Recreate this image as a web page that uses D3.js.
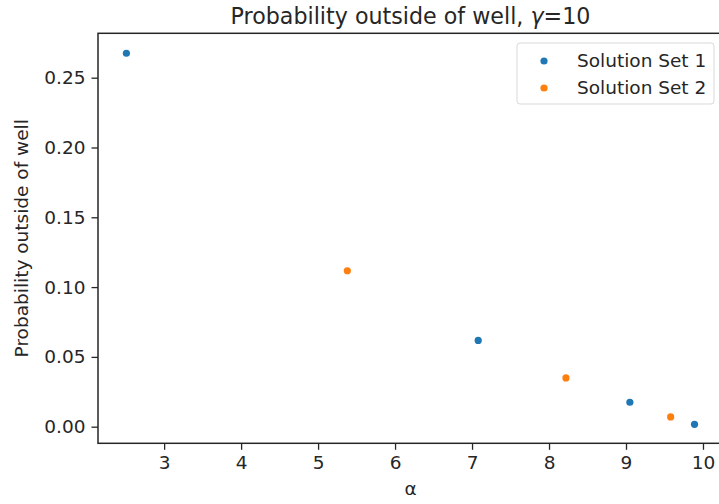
<!DOCTYPE html>
<html>
<head>
<meta charset="utf-8">
<script src="https://cdn.jsdelivr.net/npm/d3@7"></script>
<style>
    body { margin: 0; background: #fff; }
    svg { font-family: "DejaVu Sans", sans-serif; }
</style>
</head>
<body>
<svg id="chart" width="719" height="504"></svg>
<script>
(function() {
    'use strict';

    // data
    var set1Alpha = [2.51, 7.08, 9.05, 9.89];
    var set1Prob  = [0.2675, 0.0618, 0.0175, 0.0017];
    var set2Alpha = [5.38, 8.22, 9.58];
    var set2Prob  = [0.1117, 0.0349, 0.0070];

    var seriesNames  = ['Solution Set 1', 'Solution Set 2'];
    var seriesColors = ['#1f77b4', '#ff7f0e'];
    var xTicks = [3, 4, 5, 6, 7, 8, 9, 10];
    var yTicks = [0.00, 0.05, 0.10, 0.15, 0.20, 0.25];

    var margin = { left: 98, top: 33.3, width: 625, height: 410 };
    var ink = '#262626';

    var svg = d3.select('#chart');

    var x = d3.scaleLinear().domain([2.141, 10.26]).range([0, margin.width]);
    var y = d3.scaleLinear().domain([-0.0119, 0.2818]).range([margin.height, 0]);

    var g = svg.append('g')
        .attr('transform', 'translate(' + margin.left + ',' + margin.top + ')');

    /******************************************************************
        axes
     ******************************************************************/
    var xAxis = g.append('g')
        .attr('transform', 'translate(0,' + margin.height + ')')
        .call(d3.axisBottom(x).tickValues(xTicks).tickFormat(d3.format('d'))
            .tickSizeOuter(0).tickSize(6.5).tickPadding(6));

    var yAxis = g.append('g')
        .call(d3.axisLeft(y).tickValues(yTicks).tickFormat(d3.format('.2f'))
            .tickSizeOuter(0).tickSize(6.5).tickPadding(6));

    [xAxis, yAxis].forEach(function(a) {
        a.selectAll('text')
            .style('font-size', '18.5px')
            .style('font-family', '"DejaVu Sans", sans-serif')
            .attr('fill', ink);
        a.selectAll('.tick line').attr('stroke', ink).attr('stroke-width', 1.3);
        a.select('.domain').remove();
    });

    // frame
    g.append('rect')
        .attr('width', margin.width)
        .attr('height', margin.height)
        .attr('fill', 'none')
        .attr('stroke', ink)
        .attr('stroke-width', 1.5);

    /******************************************************************
        points
     ******************************************************************/
    var series = [
        { name: seriesNames[0], color: seriesColors[0], xs: set1Alpha, ys: set1Prob },
        { name: seriesNames[1], color: seriesColors[1], xs: set2Alpha, ys: set2Prob }
    ];

    series.forEach(function(s) {
        g.append('g').selectAll('circle')
            .data(s.xs.map(function(v, i) { return [v, s.ys[i]]; }))
            .enter().append('circle')
                .attr('cx', function(d) { return x(d[0]); })
                .attr('cy', function(d) { return y(d[1]); })
                .attr('r', 3.6)
                .attr('fill', s.color);
    });

    /******************************************************************
        labels
     ******************************************************************/
    var title = svg.append('text')
        .attr('x', margin.left + margin.width / 2)
        .attr('y', 24)
        .attr('text-anchor', 'middle')
        .style('font-size', '22.2px')
        .attr('fill', ink);
    title.append('tspan').text('Probability outside of well, ');
    title.append('tspan').style('font-style', 'italic').text('γ');
    title.append('tspan').text('=10');

    svg.append('text')
        .attr('x', margin.left + margin.width / 2)
        .attr('y', 495)
        .attr('text-anchor', 'middle')
        .style('font-size', '18.5px')
        .attr('fill', ink)
        .text('α');

    svg.append('text')
        .attr('transform', 'translate(28,' + (margin.top + margin.height / 2) + ') rotate(-90)')
        .attr('text-anchor', 'middle')
        .style('font-size', '18.5px')
        .attr('fill', ink)
        .text('Probability outside of well');

    /******************************************************************
        legend
     ******************************************************************/
    var legend = svg.append('g').attr('transform', 'translate(517,43)');
    legend.append('rect')
        .attr('width', 197)
        .attr('height', 61)
        .attr('rx', 3)
        .attr('fill', '#fff')
        .attr('stroke', '#d9d9d9')
        .attr('stroke-width', 1);

    var rows = legend.selectAll('.row')
        .data(series)
        .enter().append('g')
            .attr('transform', function(d, i) { return 'translate(0,' + (18 + i * 27) + ')'; });
    rows.append('circle')
        .attr('cx', 27)
        .attr('r', 3.6)
        .attr('fill', function(d) { return d.color; });
    rows.append('text')
        .attr('x', 60)
        .attr('dy', '0.35em')
        .style('font-size', '18.5px')
        .attr('fill', ink)
        .text(function(d) { return d.name; });
})();
</script>
</body>
</html>
